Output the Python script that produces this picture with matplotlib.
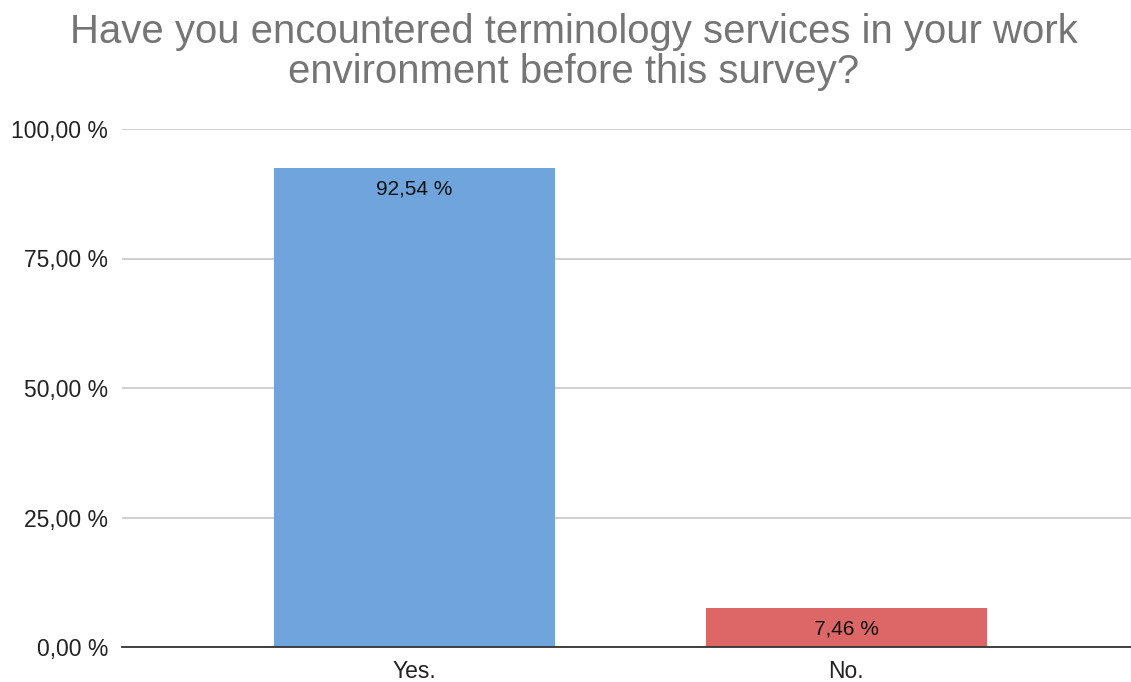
import matplotlib.pyplot as plt

categories = ["Yes.", "No."]
values = [92.54, 7.46]
colors = ["#6fa5dc", "#dd6666"]
yticks = [0, 25, 50, 75, 100]

plt.rcParams['font.family'] = ['Liberation Sans', 'DejaVu Sans']

fig = plt.figure(figsize=(11.31, 6.82), dpi=100)
ax = fig.add_axes([122/1131, 35/682, 1 - 122/1131, (647-129)/682])

x = list(range(len(categories)))
bars = ax.bar(x, values, width=0.65, color=colors, zorder=3)

for xi, v in zip(x, values):
    ax.annotate(f"{v:.2f} %".replace(".", ","), (xi, v), xytext=(0, -21),
                textcoords="offset pixels", ha="center", va="center",
                fontsize=15, color="#111111", zorder=4)

ax.set_xlim(-0.677, 1.659)
ax.set_ylim(0, 100)
ax.set_yticks(yticks)
ax.set_yticklabels([f"{t:.2f} %".replace(".", ",") for t in yticks])
ax.set_xticks(x)
ax.set_xticklabels(categories)
ax.tick_params(axis="both", length=0, labelsize=16.5, colors="#222222")
ax.tick_params(axis="y", pad=10)
ax.tick_params(axis="x", pad=9)
ax.grid(axis="y", color="#cccccc", linewidth=1.3, zorder=0)
for s in ["top", "right", "left"]:
    ax.spines[s].set_visible(False)
ax.spines["bottom"].set_color("#333333")
ax.spines["bottom"].set_linewidth(1.3)
ax.spines["bottom"].set_zorder(5)

fig.text(574/1131, 1 - 52/682,
         "Have you encountered terminology services in your work\nenvironment before this survey?",
         ha="center", va="center", fontsize=28.9, color="#757575", linespacing=1.08)

fig.savefig("out.png", dpi=100)
